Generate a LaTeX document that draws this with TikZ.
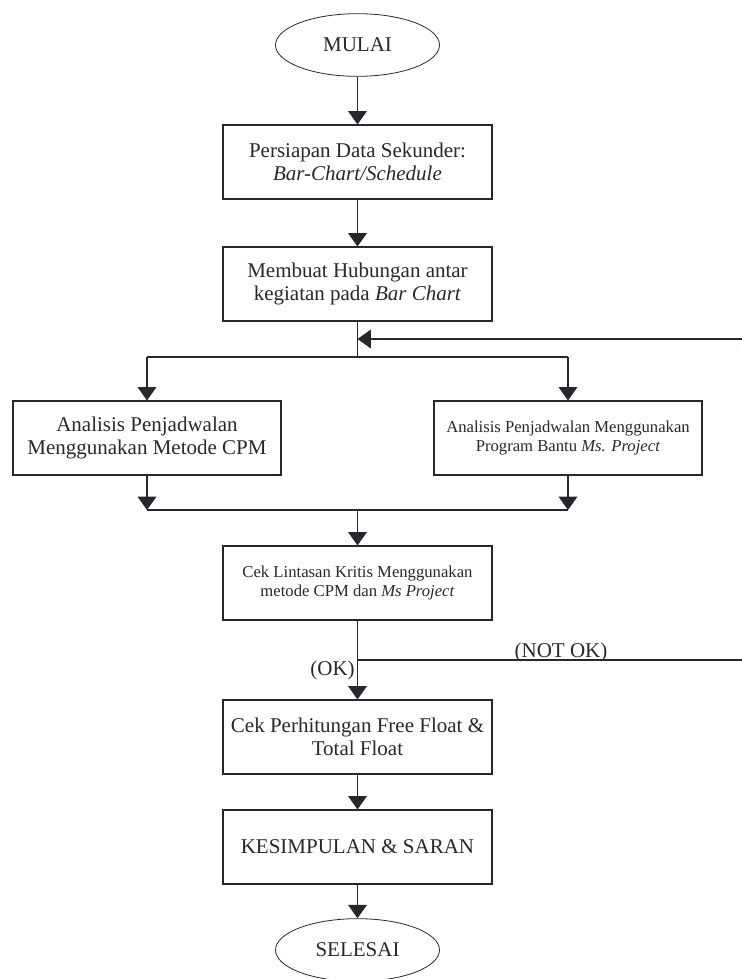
\documentclass[tikz,border=0pt]{standalone}
\usepackage{fontspec}
\setmainfont{Liberation Serif}
\usepackage{xcolor}
\usepackage{tikz}
\usetikzlibrary{positioning,arrows.meta,shapes.geometric,calc}
\definecolor{ink}{HTML}{25282D}
\tikzset{
proses/.style={
draw=ink,
line width=0.8pt,
minimum width=201.75pt,
minimum height=55.5pt,
inner sep=2pt,
align=center,
text=ink,
font=\fontsize{15.75}{17.6}\selectfont
},
prosessmall/.style={
proses,
font=\fontsize{12.5}{14.25}\selectfont
},
terminal/.style={
draw=ink,
line width=0.6pt,
ellipse,
inner sep=0pt,
minimum width=123pt,
minimum height=47pt,
text=ink,
font=\fontsize{15.75}{17.6}\selectfont
},
keterangan/.style={
inner sep=0pt,
text=ink,
font=\fontsize{15.75}{17.6}\selectfont
},
arrow/.style={
-{Triangle[length=10pt,width=14pt]},
draw=ink,
line width=0.8pt
},
garis/.style={
draw=ink,
line width=0.8pt
}
}

\begin{document}
\begin{tikzpicture}[x=0.75pt,y=-0.75pt]
\useasboundingbox (0,0) rectangle (742,979);
\node[terminal](mulai) at (357.5,45){MULAI};
\node[proses](persiapan) at (357.5,162){Persiapan Data Sekunder:\\\textit{Bar-Chart/Schedule}};
\node[proses](hubungan) at (357.5,284){Membuat Hubungan antar\\kegiatan pada \textit{Bar Chart}};
\node[proses,minimum width=201pt](cpm) at (147,438){Analisis Penjadwalan\\Menggunakan Metode CPM};
\node[prosessmall,minimum width=201pt](msp) at (568,438){Analisis Penjadwalan Menggunakan\\Program Bantu \textit{Ms. Project}};
\node[prosessmall](lintasan) at (357.5,583){Cek Lintasan Kritis Menggunakan\\metode CPM dan \textit{Ms Project}};
\node[proses](float) at (357.5,737){Cek Perhitungan Free Float \&\\Total Float};
\node[proses](kesimpulan) at (357.5,847){KESIMPULAN \& SARAN};
\node[terminal](selesai) at (357.5,950){SELESAI};

% titik cabang dan gabung
\coordinate(cabang) at (357.5,357);
\coordinate(cabangkiri) at (cpm.north|-cabang);
\coordinate(cabangkanan) at (msp.north|-cabang);
\coordinate(gabung) at (357.5,510);
\coordinate(gabungkiri) at (cpm.south|-gabung);
\coordinate(gabungkanan) at (msp.south|-gabung);
\coordinate(balik) at (742,339);
\coordinate(cek) at (357.5,660);
\coordinate(tidak) at (742,660);

\foreach \x/\y in {mulai/persiapan,persiapan/hubungan,cabangkiri/cpm,cabangkanan/msp,cpm/gabungkiri,msp/gabungkanan,gabung/lintasan,lintasan/float,float/kesimpulan,kesimpulan/selesai}
\draw[arrow](\x)--(\y);

\draw[garis](hubungan)--(cabang);
\draw[garis](cabangkiri)--(cabangkanan);
\draw[garis](gabungkiri)--(gabungkanan);
\draw[arrow](balik)--(hubungan.south|-balik);
\draw[garis](cek)--(tidak);

\node[keterangan,anchor=east](ok) at (355,670){(OK)};
\node[keterangan](notok) at (561,652){(NOT OK)};
\end{tikzpicture}
\end{document}
